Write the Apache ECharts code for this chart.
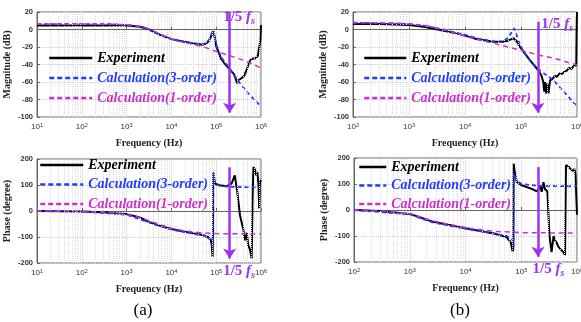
<!DOCTYPE html>
<html>
<head>
<meta charset="utf-8">
<script src="https://cdn.jsdelivr.net/npm/echarts@6/dist/echarts.min.js"></script>
<style>
  html, body { margin: 0; padding: 0; background: #fff; }
  #chart { width: 581px; height: 322px; }
</style>
</head>
<body>
<div id="chart"></div>
<script>
// every curve is [frequency (Hz), value]
// (a) magnitude, dB
const magExpA = [[10,4.5],[100,4.5],[500,4.6],[1000,4.6],[2000,3.2],[3000,0.5],[5600,-6],[1e4,-11],[1.9e4,-14],[3e4,-15.8],[5e4,-17.3],[6e4,-16],[7e4,-12.5],[7.8e4,-7],[8.6e4,-2],[9.2e4,-8],[1e5,-19],[1.3e5,-34],[1.6e5,-40],[1.9e5,-44],[2.2e5,-48],[2.5e5,-51],[2.75e5,-57],[2.95e5,-61.5],[3.1e5,-58],[3.3e5,-60],[3.6e5,-56],[3.9e5,-58],[4.2e5,-53],[4.5e5,-51],[4.8e5,-46],[5.1e5,-44],[5.4e5,-38],[5.8e5,-35],[6.2e5,-37],[6.6e5,-33],[7e5,-35],[7.5e5,-33],[8e5,-34],[8.5e5,-30],[9e5,-32],[9.4e5,-31],[9.7e5,-12],[1e6,5]];
const magCalc3A = [[10,6.2],[100,6.2],[500,6],[1000,5.3],[2000,3.5],[3000,0.8],[5600,-6],[1e4,-11],[1.9e4,-14],[3e4,-15.8],[5e4,-17],[6e4,-15.5],[7e4,-11.5],[7.8e4,-5],[8.6e4,-0.5],[9.2e4,-7],[1e5,-17],[1.3e5,-32],[1.9e5,-43],[3e5,-58],[5e5,-72],[1e6,-88]];
const magCalc1A = [[10,6.2],[100,6.2],[500,6],[1000,5.3],[2000,3.5],[3000,1],[5000,-4],[1e4,-11],[2e4,-15],[5e4,-19.5],[1e5,-25],[2e5,-30],[4e5,-35],[1e6,-44]];

// (b) magnitude, dB
const magExpB = [[100,6.3],[300,6.2],[1000,5.1],[1800,3.2],[3600,-0.6],[7000,-4.4],[1e4,-7],[1.6e4,-10.9],[3.2e4,-14],[4.8e4,-14],[6e4,-12.5],[7.4e4,-10],[8.5e4,-14],[9.5e4,-19.6],[1.44e5,-35],[2e5,-46],[2.3e5,-52],[2.5e5,-60],[2.6e5,-71],[2.7e5,-60],[2.8e5,-73],[2.95e5,-62],[3.1e5,-73],[3.3e5,-58],[3.6e5,-57],[4e5,-53],[4.4e5,-54],[4.9e5,-50],[5.4e5,-51],[6e5,-48],[6.6e5,-47],[7.2e5,-44],[8e5,-45],[8.6e5,-42],[9.3e5,-43],[9.7e5,-41],[9.85e5,0],[1e6,20]];
const magCalc3B = [[100,7.8],[1000,6.3],[1800,4.5],[3600,0.5],[7000,-3.5],[1e4,-6],[1.6e4,-10],[3.2e4,-13.5],[4.8e4,-13.5],[6e4,-9],[6.8e4,-3],[7.5e4,1.5],[8e4,-3],[9e4,-13],[1.1e5,-25],[1.44e5,-35],[2e5,-45],[3.8e5,-58],[6.6e5,-75],[1e6,-88]];
const magCalc1B = [[100,7.8],[500,7.5],[1000,6.3],[2000,4.5],[4000,0.5],[1e4,-7.5],[3.2e4,-15.8],[9.5e4,-23.4],[2e5,-29],[4e5,-33],[1e6,-40.6]];

// (a) phase, degree
const phExpA = [[10,0],[100,-2],[300,-5],[1000,-12],[2000,-25],[3000,-41],[5000,-55],[1e4,-69],[2e4,-80],[5e4,-92],[6.6e4,-101],[7.5e4,-112],[7.9e4,-125],[8.3e4,-177],[8.5e4,-60],[8.6e4,150],[9.4e4,105],[1.2e5,99],[1.7e5,95],[2.2e5,105],[2.6e5,137],[2.96e5,73],[3.4e5,-17],[4e5,-68],[4.4e5,-113],[4.8e5,-84],[5.2e5,-132],[5.7e5,-150],[6.2e5,-183],[6.5e5,60],[6.8e5,169],[7.3e5,160],[7.8e5,137],[8.3e5,150],[8.8e5,100],[9.1e5,10],[9.5e5,111],[1e6,120]];
const phCalc3A = [[10,0],[100,-2],[1000,-14],[3000,-43],[1e4,-71],[3e4,-87],[6e4,-97],[7.8e4,-110],[8.4e4,-135],[8.6e4,150],[8.9e4,125],[9.5e4,105],[1.2e5,97],[2e5,93],[1e6,91]];
const phCalc1A = [[10,0],[100,-1.5],[300,-4],[1000,-13],[2000,-25],[3000,-36],[5000,-50],[1e4,-66],[2e4,-77],[5e4,-84],[1e5,-87],[1e6,-89]];

// (b) phase, degree
const phExpB = [[100,0],[300,-4],[1000,-15],[2600,-45],[1e4,-70],[3.2e4,-90],[5.5e4,-105],[6.5e4,-125],[7e4,-160],[7.2e4,-150],[7.3e4,178],[7.6e4,150],[8.3e4,108],[1.02e5,95],[1.5e5,82],[1.9e5,72],[2.05e5,80],[2.17e5,95],[2.33e5,70],[2.5e5,107],[2.67e5,80],[2.94e5,72],[3.2e5,-97],[3.5e5,-162],[3.8e5,-100],[4e5,-115],[4.3e5,-125],[4.6e5,-140],[4.96e5,-149],[5.3e5,-155],[5.7e5,-162],[6.1e5,-174],[6.35e5,172],[6.7e5,178],[7e5,168],[7.5e5,160],[8e5,165],[8.5e5,150],[9e5,158],[9.4e5,135],[9.8e5,130],[1e6,-18]];
const phCalc3B = [[100,0],[1000,-17],[2600,-48],[1e4,-72],[3.2e4,-90],[5.5e4,-100],[7e4,-115],[7.3e4,-140],[7.35e4,140],[8e4,118],[1e5,100],[2e5,93],[1e6,91]];
const phCalc1B = [[100,0],[300,-3],[1000,-14],[2600,-42],[1e4,-68],[3.2e4,-82],[1e5,-87],[1e6,-89]];

const fsFifth = 2e5;
const names = ['Experiment', 'Calculation(3-order)', 'Calculation(1-order)'];

const SERIF = "'Liberation Serif', 'Times New Roman', serif";
const SANS = "'Liberation Sans', Arial, sans-serif";
const C_EXP = '#000000', C_3 = '#1f3cff', C_1 = '#cc2ecc', C_ARROW = '#a030f0';

const panels = [
  { grid: { left: 37, top: 12, width: 224, height: 105 }, xMin: 10, yMin: -100, yMax: 20, step: 20, yName: 'Magnitude (dB)',
    curves: [magExpA, magCalc3A, magCalc1A], arrow: [20, -95], tag: { y: 20, pos: [-6, 6] },
    legend: { left: 48, top: 51, w: 43, gap: 6 } },
  { grid: { left: 353, top: 12, width: 224, height: 105 }, xMin: 100, yMin: -100, yMax: 20, step: 20, yName: 'Magnitude (dB)',
    curves: [magExpB, magCalc3B, magCalc1B], arrow: [9, -95], tag: { y: 20, pos: [4, 13] },
    legend: { left: 363, top: 51, w: 42, gap: 6 } },
  { grid: { left: 37, top: 159, width: 224, height: 104 }, xMin: 10, yMin: -200, yMax: 200, step: 100, yName: 'Phase (degree)',
    curves: [phExpA, phCalc3A, phCalc1A], arrow: [168, -183], tag: { y: -200, pos: [-6, 9] },
    legend: { left: 39, top: 158, w: 43, gap: 5.5 } },
  { grid: { left: 354, top: 158, width: 223, height: 104 }, xMin: 100, yMin: -200, yMax: 200, step: 100, yName: 'Phase (degree)',
    curves: [phExpB, phCalc3B, phCalc1B], arrow: [165, -180], tag: { y: -200, pos: [-5, 8] },
    legend: { left: 358, top: 160, w: 27, gap: 4.5 } }
];

// log-axis minor grid positions (2..9 in each decade)
function minorLines(xMin) {
  const out = [];
  for (let d = xMin; d < 1e6; d *= 10) {
    for (let k = 2; k <= 9; k++) out.push({ xAxis: k * d });
  }
  return out;
}

const tagRich = {
  n: { fontFamily: SERIF, fontWeight: 'bold', fontSize: 15, color: C_ARROW },
  f: { fontFamily: SERIF, fontWeight: 'bold', fontStyle: 'italic', fontSize: 15, color: C_ARROW },
  s: { fontFamily: SERIF, fontWeight: 'bold', fontStyle: 'italic', fontSize: 10, color: C_ARROW, padding: [7, 0, 0, 0] }
};

const grid = [], xAxis = [], yAxis = [], series = [], legend = [];

panels.forEach((p, i) => {
  grid.push(Object.assign({ show: true, borderColor: '#666', borderWidth: 1, outerBoundsMode: 'none' }, p.grid));

  xAxis.push({
    type: 'log', logBase: 10, gridIndex: i, min: p.xMin, max: 1e6,
    name: 'Frequency (Hz)', nameLocation: 'middle', nameGap: 21,
    nameTextStyle: { fontFamily: SERIF, fontWeight: 'bold', fontSize: 10, color: '#222' },
    axisLine: { show: true, lineStyle: { color: '#666' } },
    axisTick: { inside: true, length: 3, lineStyle: { color: '#666' } },
    axisLabel: {
      margin: 5,
      formatter: v => '{b|10}{e|' + Math.round(Math.log10(v)) + '}',
      rich: {
        b: { fontFamily: SANS, fontSize: 8, color: '#333' },
        e: { fontFamily: SANS, fontSize: 5.5, color: '#333', verticalAlign: 'top', padding: [0, 0, 4, 0] }
      }
    },
    splitLine: { show: true, lineStyle: { type: 'dotted', color: '#cfcfcf' } }
  });

  yAxis.push({
    type: 'value', gridIndex: i, min: p.yMin, max: p.yMax, interval: p.step,
    name: p.yName, nameLocation: 'middle', nameGap: 25,
    nameTextStyle: { fontFamily: SERIF, fontWeight: 'bold', fontSize: 10, color: '#222' },
    axisLine: { show: true, lineStyle: { color: '#666' } },
    axisTick: { show: true, inside: true, length: 3, lineStyle: { color: '#666' } },
    axisLabel: { margin: 4, fontFamily: SANS, fontWeight: 'bold', fontSize: 7.5, color: '#333' },
    splitLine: { show: true, lineStyle: { type: 'dotted', color: '#cfcfcf' } }
  });

  // minor vertical grid lines
  series.push({
    type: 'line', xAxisIndex: i, yAxisIndex: i, data: [], silent: true, z: 0,
    markLine: {
      silent: true, symbol: 'none', label: { show: false }, animation: false,
      lineStyle: { type: 'dotted', color: '#dddddd', width: 1 },
      emphasis: { disabled: true },
      data: minorLines(p.xMin)
    }
  });

  const [exp, c3, c1] = p.curves;
  series.push({
    name: names[0], type: 'line', xAxisIndex: i, yAxisIndex: i, data: exp,
    symbol: 'none', z: 3, lineStyle: { color: C_EXP, width: 2 }, itemStyle: { color: C_EXP }
  });
  series.push({
    name: names[1], type: 'line', xAxisIndex: i, yAxisIndex: i, data: c3,
    symbol: 'none', z: 4, lineStyle: { color: C_3, width: 1.8, type: [4, 3] }, itemStyle: { color: C_3 }
  });
  series.push({
    name: names[2], type: 'line', xAxisIndex: i, yAxisIndex: i, data: c1,
    symbol: 'none', z: 5, lineStyle: { color: C_1, width: 1.5, type: [5, 4] }, itemStyle: { color: C_1 },
    markLine: {
      silent: true, symbol: ['none', 'arrow'], symbolSize: 10, animation: false,
      label: { show: false },
      lineStyle: { color: C_ARROW, width: 2.5, type: 'solid' },
      data: [[{ coord: [fsFifth, p.arrow[0]] }, { coord: [fsFifth, p.arrow[1]] }]]
    },
    markPoint: {
      silent: true, symbol: 'circle', symbolSize: 1, animation: false,
      itemStyle: { color: 'rgba(0,0,0,0)' },
      label: {
        show: true, position: p.tag.pos, align: 'left', verticalAlign: 'middle',
        formatter: '{n|1/5 }{f|f}{s|s}', rich: tagRich
      },
      data: [{ coord: [fsFifth, p.tag.y] }]
    }
  });

  const hidden = { opacity: 0 };
  legend.push({
    left: p.legend.left, top: p.legend.top, orient: 'vertical', padding: 0, z: 20,
    itemWidth: p.legend.w, itemHeight: 14, itemGap: p.legend.gap, selectedMode: false,
    textStyle: { fontFamily: SERIF, fontStyle: 'italic', fontWeight: 'bold', fontSize: 14 },
    data: [
      { name: names[0], textStyle: { color: C_EXP }, itemStyle: hidden, lineStyle: { width: 2.5, type: 'solid' } },
      { name: names[1], textStyle: { color: C_3 }, itemStyle: hidden, lineStyle: { width: 2.5, type: [5, 3] } },
      { name: names[2], textStyle: { color: C_1 }, itemStyle: hidden, lineStyle: { width: 2.5, type: [5, 3] } }
    ]
  });
});

const chart = echarts.init(document.getElementById('chart'), null, { renderer: 'canvas' });
chart.setOption({
  animation: false,
  backgroundColor: '#fff',
  grid, xAxis, yAxis, series, legend,
  graphic: [
    { type: 'text', x: 143, y: 311, style: { text: '(a)', align: 'center', verticalAlign: 'middle', font: '17px ' + SERIF, fill: '#000' } },
    { type: 'text', x: 460, y: 311, style: { text: '(b)', align: 'center', verticalAlign: 'middle', font: '17px ' + SERIF, fill: '#000' } }
  ]
});
</script>
</body>
</html>
